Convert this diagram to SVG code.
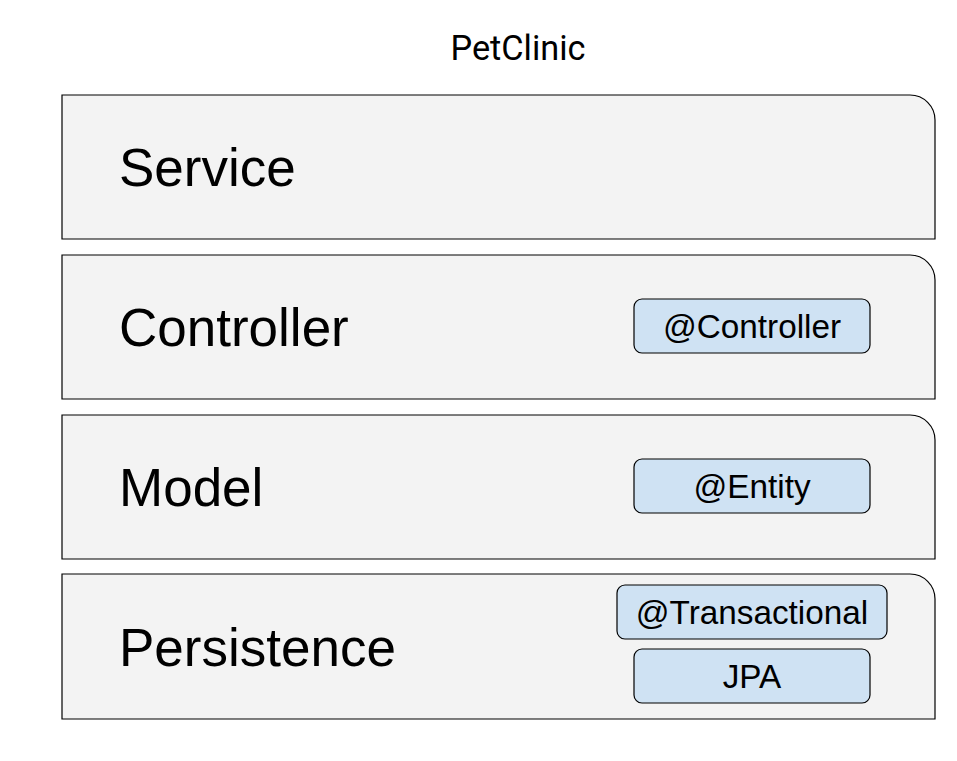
<svg xmlns="http://www.w3.org/2000/svg" width="957" height="761" viewBox="0 0 957 761">
<style>
.layer{fill:#f3f3f3;stroke:#000;stroke-width:1.2}
.tag{fill:#cfe2f3;stroke:#000;stroke-width:1.2}
.big{font-family:"Liberation Sans",Arial,sans-serif;font-size:53px;fill:#000}
.sm{font-family:"Liberation Sans",Arial,sans-serif;font-size:33.3px;fill:#000;text-anchor:middle}
.title{font-family:Roboto,"Liberation Sans",sans-serif;font-size:34.3px;fill:#000;text-anchor:middle}
</style>
<rect width="957" height="761" fill="#fff"/>
<text class="title" x="518" y="60">PetClinic</text>
<g id="service">
<path class="layer" d="M62 95 H910 A25 25 0 0 1 935 120 V239 H62 Z"/>
<text class="big" x="119" y="186">Service</text>
</g>
<g id="controller">
<path class="layer" d="M62 255 H910 A25 25 0 0 1 935 280 V399 H62 Z"/>
<text class="big" x="119" y="346">Controller</text>
</g>
<g id="model">
<path class="layer" d="M62 415 H910 A25 25 0 0 1 935 440 V559 H62 Z"/>
<text class="big" x="119" y="506">Model</text>
</g>
<g id="persistence">
<path class="layer" d="M62 574 H910 A25 25 0 0 1 935 599 V719 H62 Z"/>
<text class="big" x="119" y="666">Persistence</text>
</g>
<g id="at-controller">
<rect class="tag" x="634" y="299" width="236" height="54" rx="8"/>
<text class="sm" x="752" y="338">@Controller</text>
</g>
<g id="at-entity">
<rect class="tag" x="634" y="459" width="236" height="54" rx="8"/>
<text class="sm" x="752" y="498">@Entity</text>
</g>
<g id="at-transactional">
<rect class="tag" x="617" y="585" width="270" height="54" rx="8"/>
<text class="sm" x="752" y="624">@Transactional</text>
</g>
<g id="jpa">
<rect class="tag" x="634" y="649" width="236" height="54" rx="8"/>
<text class="sm" x="752" y="688">JPA</text>
</g>
<g id="connectors"></g>
</svg>
